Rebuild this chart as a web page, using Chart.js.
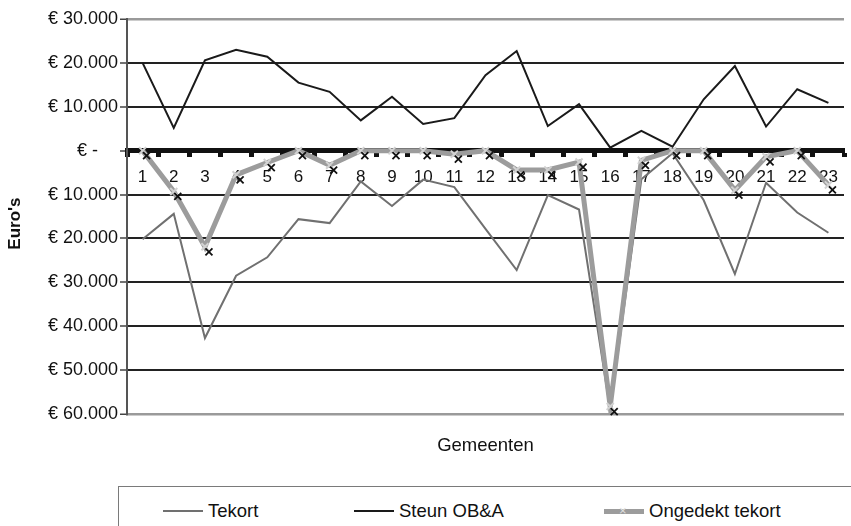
<!DOCTYPE html>
<html>
<head>
<meta charset="utf-8">
<script src="https://cdn.jsdelivr.net/npm/chart.js@4/dist/chart.umd.min.js"></script>
<style>
  html, body { margin: 0; padding: 0; background: #fff; }
  body { width: 851px; height: 526px; position: relative; overflow: hidden; font-family: "Liberation Sans", Arial, sans-serif; }
  #wrap { position: absolute; left: 0; top: 0; width: 851px; height: 470px; }
  #legend { position: absolute; left: 118px; top: 486px; width: 760px; height: 60px; border: 1.5px solid #7a7a7a; box-sizing: border-box; }
  .item { position: absolute; top: 12px; height: 24px; display: flex; align-items: center; font-size: 18.5px; color: #111; }
  .sample { position: relative; width: 40px; margin-right: 5px; }
</style>
</head>
<body>
<div id="wrap"><canvas id="c"></canvas></div>
<div id="legend"></div>
<script>
const categories = ['1','2','3','4','5','6','7','8','9','10','11','12','13','14','15','16','17','18','19','20','21','22','23'];
const tekort   = [-20200,-14400,-42700,-28500,-24300,-15600,-16500,-7000,-12600,-6600,-8300,-17800,-27200,-10100,-13400,-59000,-6500,-600,-11300,-28100,-7300,-14100,-18700];
const steunOBA = [20000,5200,20600,23000,21400,15500,13400,6900,12300,6100,7400,17200,22700,5600,10600,700,4500,900,11700,19300,5500,14000,10900];
const ongedekt = [0,-9300,-21900,-5500,-2700,0,-3300,0,0,0,-800,0,-4400,-4400,-2600,-58300,-2200,0,0,-9000,-1400,0,-7800];
const seriesNames = ['Tekort', 'Steun OB&A', 'Ongedekt tekort'];
const yTickValues = [30000,20000,10000,0,-10000,-20000,-30000,-40000,-50000,-60000];
const yTickLabels = ['€ 30.000','€ 20.000','€ 10.000','€ -    ','€ 10.000','€ 20.000','€ 30.000','€ 40.000','€ 50.000','€ 60.000'];
const xTitle = 'Gemeenten';
const yTitle = "Euro's";

const FONT = "'Liberation Sans', Arial, sans-serif";

// Offset dark cross marks (print registration shadow of the Ongedekt markers)
const shadowCrosses = {
  id: 'shadowCrosses',
  afterDatasetsDraw(chart) {
    const meta = chart.getDatasetMeta(2);
    const ctx = chart.ctx;
    ctx.save();
    ctx.strokeStyle = '#111';
    ctx.lineWidth = 1.8;
    meta.data.forEach(el => {
      const x = el.x + 4, y = el.y + 5, r = 3.5;
      ctx.beginPath();
      ctx.moveTo(x - r, y - r); ctx.lineTo(x + r, y + r);
      ctx.moveTo(x + r, y - r); ctx.lineTo(x - r, y + r);
      ctx.stroke();
    });
    ctx.restore();
  }
};

const chart = new Chart(document.getElementById('c'), {
  type: 'line',
  data: {
    labels: categories,
    datasets: [
      { label: seriesNames[0], data: tekort, borderColor: '#707070', borderWidth: 2, pointRadius: 0, tension: 0, order: 2 },
      { label: seriesNames[1], data: steunOBA, borderColor: '#1a1a1a', borderWidth: 2, pointRadius: 0, tension: 0, order: 3 },
      { label: seriesNames[2], data: ongedekt, borderColor: '#9c9c9c', borderWidth: 5, tension: 0, order: 1,
        pointStyle: 'crossRot', pointRadius: 5, pointBorderColor: '#d2d2d2', pointBorderWidth: 2, pointBackgroundColor: '#d2d2d2' }
    ]
  },
  options: {
    responsive: true,
    maintainAspectRatio: false,
    animation: false,
    layout: { padding: { top: 19, right: 0, left: 0, bottom: 0 } },
    plugins: { legend: { display: false }, tooltip: { enabled: false } },
    scales: {
      x: {
        type: 'category',
        position: { y: 0 },
        offset: true,
        grid: { offset: true, drawOnChartArea: false, drawTicks: true, tickLength: 4, tickWidth: 5, tickColor: '#111' },
        border: { display: true, color: '#111', width: 5 },
        ticks: { color: '#111', padding: 12, font: { family: FONT, size: 17 }, maxRotation: 0, autoSkip: false }
      },
      x2: {
        type: 'category',
        position: 'bottom',
        grid: { display: false, drawTicks: false },
        border: { display: false },
        ticks: { display: false },
        title: { display: true, text: xTitle, color: '#111', font: { family: FONT, size: 18.5 }, padding: { top: 0, bottom: 13 } },
        afterFit(s) { s.height = 56; }
      },
      y: {
        min: -60000,
        max: 30000,
        afterBuildTicks(s) { s.ticks = yTickValues.map(v => ({ value: v })); },
        afterFit(s) { s.width = 127; },
        grid: {
          color: ctx => (ctx.tick && (ctx.tick.value === 30000 || ctx.tick.value === -60000)) ? '#9a9a9a' : '#222',
          lineWidth: ctx => (ctx.tick && (ctx.tick.value === 30000 || ctx.tick.value === -60000)) ? 2.5 : 2,
          tickLength: 7,
          tickColor: '#444',
          tickWidth: 1.5
        },
        border: { display: true, color: '#555', width: 2 },
        ticks: {
          color: '#111',
          padding: 2,
          font: { family: FONT, size: 18 },
          callback: v => { const i = yTickValues.indexOf(v); return i >= 0 ? yTickLabels[i] : ''; }
        },
        title: { display: true, text: yTitle + '   ', color: '#111', font: { family: FONT, size: 17, weight: 'bold' }, padding: { top: 5, bottom: 0 } }
      }
    }
  },
  plugins: [shadowCrosses]
});

// HTML legend built from the chart's datasets
const legend = document.getElementById('legend');
const itemLefts = [44, 235, 485];
chart.data.datasets.forEach((ds, i) => {
  const item = document.createElement('div');
  item.className = 'item';
  item.style.left = itemLefts[i] + 'px';
  const s = document.createElement('span');
  s.className = 'sample';
  s.style.height = ds.borderWidth + 'px';
  s.style.background = ds.borderColor;
  if (ds.pointStyle === 'crossRot') {
    const m = document.createElement('span');
    m.textContent = '×';
    m.style.cssText = 'position:absolute;left:15px;top:50%;transform:translateY(-52%);font-size:13px;line-height:13px;color:#e0e0e0;';
    s.appendChild(m);
  }
  const t = document.createElement('span');
  t.textContent = ds.label;
  item.appendChild(s);
  item.appendChild(t);
  legend.appendChild(item);
});
</script>
</body>
</html>
